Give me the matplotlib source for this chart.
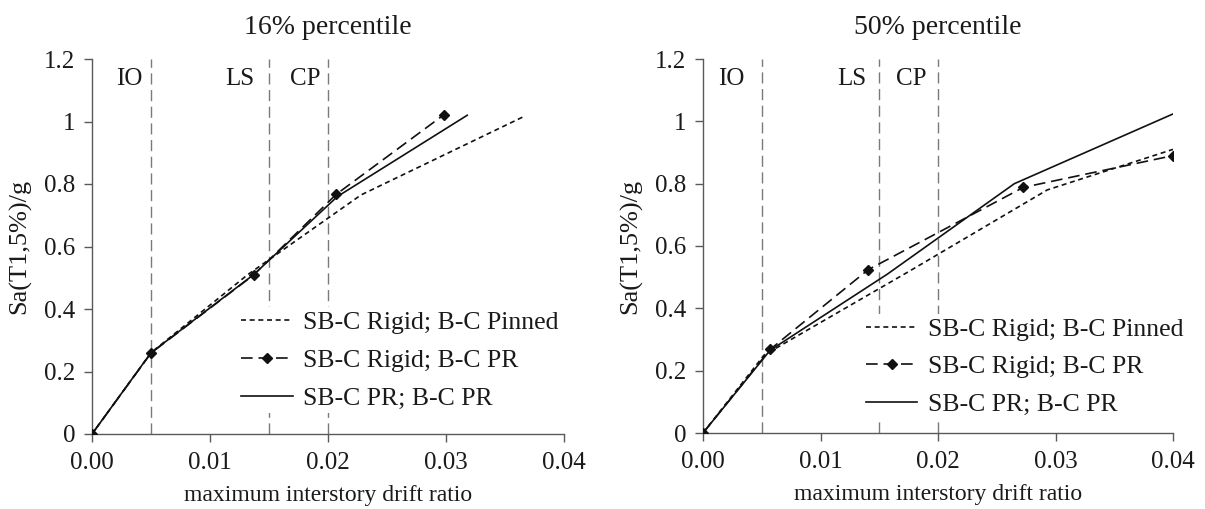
import matplotlib
matplotlib.use("Agg")
import matplotlib.pyplot as plt

plt.rcParams['font.family'] = ['Liberation Serif', 'DejaVu Serif']

# ---- data ----
titles = ["16% percentile", "50% percentile"]
series_names = ["SB-C Rigid; B-C Pinned", "SB-C Rigid; B-C PR", "SB-C PR; B-C PR"]

# 16% percentile
p16_pinned_x = [0.0, 0.0050, 0.0132, 0.0228, 0.0366]
p16_pinned_y = [0.0, 0.26, 0.51, 0.765, 1.016]
p16_rigidpr_x = [0.0, 0.0050, 0.0137, 0.0207, 0.0298]
p16_rigidpr_y = [0.0, 0.259, 0.509, 0.767, 1.021]
p16_prpr_x = [0.0, 0.0050, 0.0137, 0.0208, 0.0318]
p16_prpr_y = [0.0, 0.26, 0.51, 0.760, 1.020]

# 50% percentile
p50_pinned_x = [0.0, 0.0052, 0.0176, 0.0293, 0.0400]
p50_pinned_y = [0.0, 0.25, 0.52, 0.78, 0.91]
p50_rigidpr_x = [0.0, 0.00574, 0.01406, 0.02726, 0.0400]
p50_rigidpr_y = [0.0, 0.269, 0.524, 0.788, 0.89]
p50_prpr_x = [0.0, 0.0057, 0.0157, 0.0265, 0.0402]
p50_prpr_y = [0.0, 0.265, 0.51, 0.800, 1.027]

limit_states = ["IO", "LS", "CP"]
limit_drifts = [0.005, 0.015, 0.020]
label_x_16 = [0.0032, 0.0125, 0.0181]
label_x_50 = [0.0024, 0.0127, 0.0177]

x_ticks = [0.0, 0.01, 0.02, 0.03, 0.04]
x_ticklabels = ["0.00", "0.01", "0.02", "0.03", "0.04"]
y_ticks = [0, 0.2, 0.4, 0.6, 0.8, 1.0, 1.2]
y_ticklabels = ["0", "0.2", "0.4", "0.6", "0.8", "1", "1.2"]

panels = [
    (titles[0], (p16_pinned_x, p16_pinned_y), (p16_rigidpr_x, p16_rigidpr_y),
     (p16_prpr_x, p16_prpr_y), label_x_16, (0.01232, 0.236)),
    (titles[1], (p50_pinned_x, p50_pinned_y), (p50_rigidpr_x, p50_rigidpr_y),
     (p50_prpr_x, p50_prpr_y), label_x_50, (0.01355, 0.212)),
]

fig = plt.figure(figsize=(12.05, 5.09), dpi=100)
axes_rects = [[92 / 1205, 1 - 434 / 509, 472 / 1205, 375 / 509],
              [703 / 1205, 1 - 433 / 509, 470 / 1205, 374 / 509]]

spine_c = '#595959'
text_c = '#1a1a1a'

for rect, (title, pin, rpr, prpr, lab_x, leg_anchor) in zip(axes_rects, panels):
    ax = fig.add_axes(rect)
    ax.set_xlim(0, 0.04)
    ax.set_ylim(0, 1.2)

    for d, name, lx in zip(limit_drifts, limit_states, lab_x):
        ax.axvline(d, color='#7a7a7a', lw=1.0, dashes=(8, 4), zorder=1)
        ax.text(lx, 1.135, name, ha='center', va='center', fontsize=18, color=text_c)

    l1, = ax.plot(pin[0], pin[1], color='#111111', lw=1.2, dashes=(3, 2.2),
                  zorder=3, label=series_names[0])
    l2, = ax.plot(rpr[0], rpr[1], color='#111111', lw=1.2, dashes=(7, 3.5),
                  marker='D', markersize=5.5, zorder=3, label=series_names[1])
    l3, = ax.plot(prpr[0], prpr[1], color='#111111', lw=1.2, zorder=3,
                  label=series_names[2])

    ax.set_xticks(x_ticks)
    ax.set_xticklabels(x_ticklabels)
    ax.set_yticks(y_ticks)
    ax.set_yticklabels(y_ticklabels)
    ax.tick_params(axis='both', labelsize=18, colors=spine_c, labelcolor=text_c,
                   length=6, width=1.0, direction='out')
    ax.tick_params(axis='x', pad=7)
    ax.tick_params(axis='y', pad=6)
    for s in ['top', 'right']:
        ax.spines[s].set_visible(False)
    for s in ['left', 'bottom']:
        ax.spines[s].set_color(spine_c)
        ax.spines[s].set_linewidth(1.0)

    ax.set_title(title, fontsize=20, color=text_c, pad=18)
    ax.set_xlabel("maximum interstory drift ratio", fontsize=17, color=text_c, labelpad=8)
    ax.set_ylabel("Sa(T1,5%)/g", fontsize=19, color=text_c, labelpad=9)

    leg = ax.legend(handles=[l1, l2, l3], loc='center left',
                    bbox_to_anchor=leg_anchor, bbox_transform=ax.transData,
                    frameon=True, fancybox=False, borderpad=0.15,
                    handlelength=2.0, handletextpad=0.4, labelspacing=0.58,
                    fontsize=18.5, borderaxespad=0)
    leg.get_frame().set_facecolor('white')
    leg.get_frame().set_edgecolor('none')
    leg.get_frame().set_alpha(1.0)
    leg.set_zorder(2)
    for t in leg.get_texts():
        t.set_color(text_c)

fig.savefig("out.png", dpi=100)
